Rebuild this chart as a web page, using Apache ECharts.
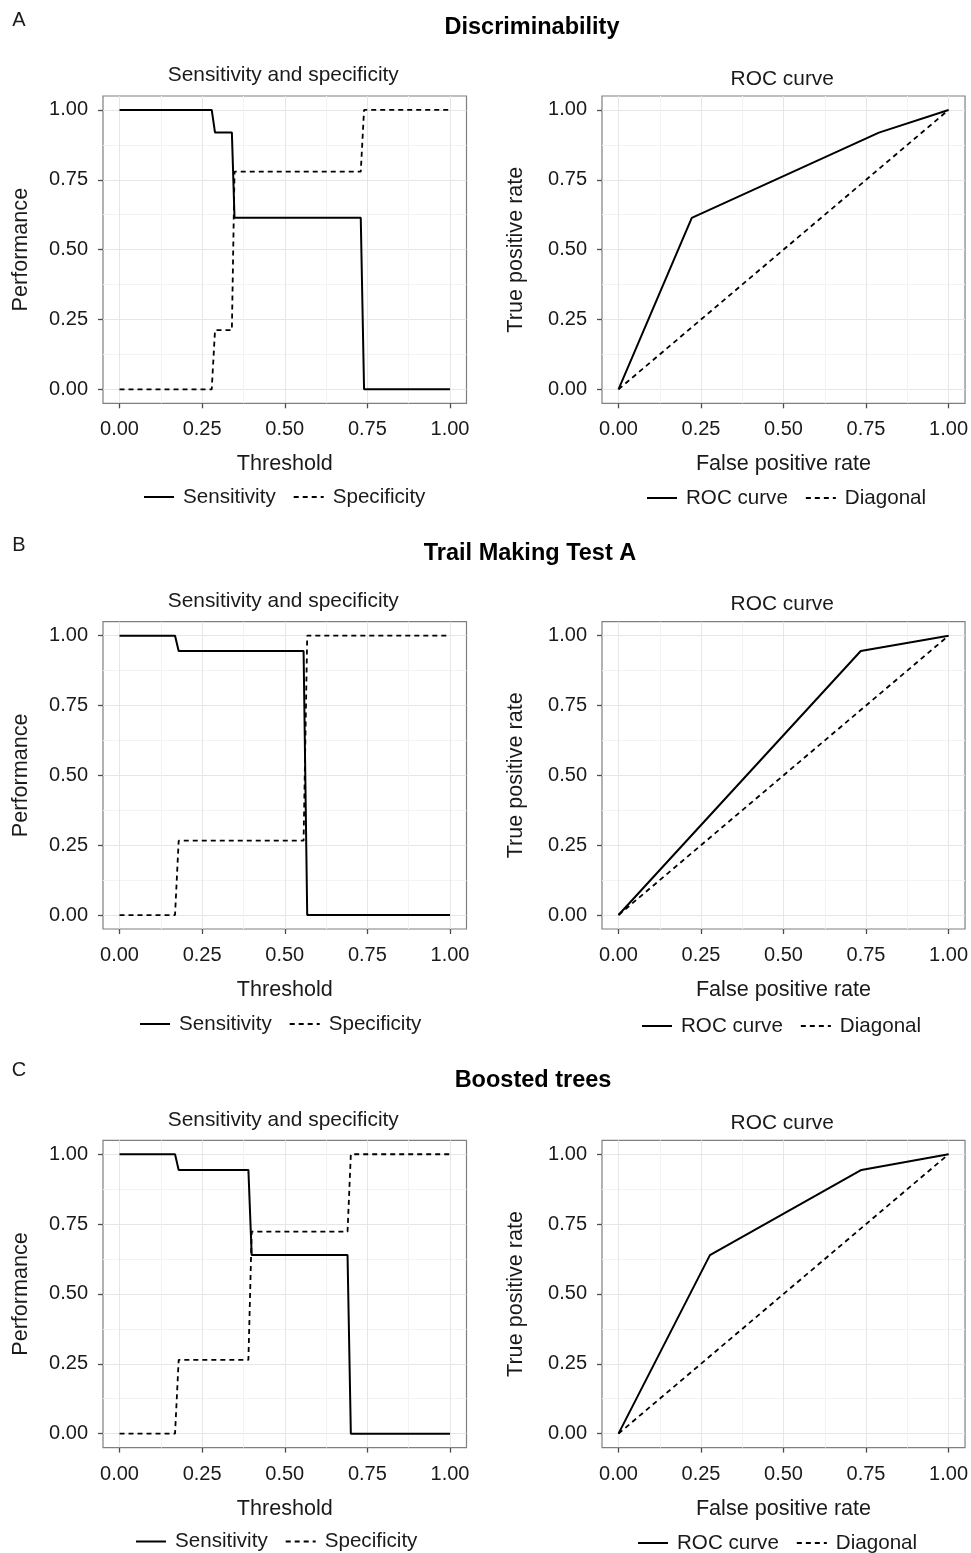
<!DOCTYPE html>
<html>
<head>
<meta charset="utf-8">
<title>Discriminability / Trail Making Test A / Boosted trees</title>
<script src="https://cdn.jsdelivr.net/npm/echarts@6/dist/echarts.min.js"></script>
<style>
  html, body { margin: 0; padding: 0; background: #fff; }
  #chart { width: 971px; height: 1553px; }
</style>
</head>
<body>
<div id="chart"></div>
<script>
// axis ticks (ggplot style: major + minor grid)
const majorTicks = [0, 0.25, 0.5, 0.75, 1];
const minorTicks = [0.125, 0.375, 0.625, 0.875];

// A - Discriminability
const thresholdA = [0, 0.279, 0.289, 0.340, 0.348, 0.730, 0.740, 1];
const sensA = [1, 1, 0.919, 0.919, 0.614, 0.614, 0, 0];
const specA = [0, 0, 0.212, 0.212, 0.779, 0.779, 1, 1];
const fprA = [0, 0.222, 0.789, 1];
const tprA = [0, 0.614, 0.919, 1];

// B - Trail Making Test A
const thresholdB = [0, 0.168, 0.179, 0.557, 0.568, 1];
const sensB = [1, 1, 0.945, 0.945, 0, 0];
const specB = [0, 0, 0.266, 0.266, 1, 1];
const fprB = [0, 0.734, 1];
const tprB = [0, 0.945, 1];

// C - Boosted trees
const thresholdC = [0, 0.168, 0.179, 0.390, 0.400, 0.690, 0.700, 1];
const sensC = [1, 1, 0.944, 0.944, 0.639, 0.639, 0, 0];
const specC = [0, 0, 0.264, 0.264, 0.723, 0.723, 1, 1];
const fprC = [0, 0.277, 0.736, 1];
const tprC = [0, 0.639, 0.944, 1];

const diagonal = [0, 1];

const FONT = '"Liberation Sans", Arial, sans-serif';
const TEXT = '#1a1a1a';

const rows = [
  { letter: 'A', title: 'Discriminability', thr: thresholdA, sens: sensA, spec: specA, fpr: fprA, tpr: tprA,
    top: 96, letterY: 20, titleX: 532, titleY: 28, legendX: [143, 646], legendY: [497, 498] },
  { letter: 'B', title: 'Trail Making Test A', thr: thresholdB, sens: sensB, spec: specB, fpr: fprB, tpr: tprB,
    top: 621.7, letterY: 545, titleX: 530, titleY: 554, legendX: [139, 641], legendY: [1024, 1026] },
  { letter: 'C', title: 'Boosted trees', thr: thresholdC, sens: sensC, spec: specC, fpr: fprC, tpr: tprC,
    top: 1140.3, letterY: 1070, titleX: 533, titleY: 1080.5, legendX: [135, 637], legendY: [1541.5, 1543] }
];

const panelW = 363.5, panelH = 307.3;
const panelLeft = [103, 602];

const grid = [], xAxis = [], yAxis = [], series = [], legend = [], graphic = [];

function pairs(xs, ys) {
  return xs.map((x, i) => [x, ys[i]]);
}

function majorAxis(g, name, gap, isX) {
  return {
    type: 'value', gridIndex: g, min: -0.05, max: 1.05,
    position: isX ? 'bottom' : 'left',
    name: name, nameLocation: 'middle', nameGap: gap,
    nameTextStyle: { fontSize: 21.6, color: TEXT, fontFamily: FONT },
    axisLine: { show: false, onZero: false },
    axisTick: { show: true, length: 5, customValues: majorTicks, lineStyle: { color: '#4d4d4d', width: 1.3 } },
    axisLabel: { customValues: majorTicks, formatter: v => v.toFixed(2), margin: isX ? 16.5 : 15,
      fontSize: 20, color: TEXT, fontFamily: FONT },
    splitLine: { show: true, lineStyle: { color: '#e6e6e6', width: 1 } }
  };
}

function minorAxis(g, isX) {
  return {
    type: 'value', gridIndex: g, min: -0.05, max: 1.05,
    position: isX ? 'top' : 'right',
    axisLine: { show: false, onZero: false },
    axisTick: { show: false, customValues: minorTicks },
    axisLabel: { show: false },
    splitLine: { show: true, lineStyle: { color: '#f3f3f3', width: 1 } }
  };
}

rows.forEach((row, r) => {
  // panel letter + row title
  graphic.push({ type: 'text', x: 19, y: row.letterY, silent: true,
    style: { text: row.letter, fontSize: 20, fontFamily: FONT, fill: TEXT, align: 'center', verticalAlign: 'middle' } });
  graphic.push({ type: 'text', x: row.titleX, y: row.titleY, silent: true,
    style: { text: row.title, fontSize: 23.5, fontWeight: 'bold', fontFamily: FONT, fill: '#000', align: 'center', verticalAlign: 'middle' } });

  [0, 1].forEach(c => {
    const g = r * 2 + c;
    grid.push({ left: panelLeft[c], top: row.top, width: panelW, height: panelH,
      show: true, borderColor: '#7f7f7f', borderWidth: 1.2, backgroundColor: 'transparent' });

    const sub = c === 0 ? 'Sensitivity and specificity' : 'ROC curve';
    graphic.push({ type: 'text', x: panelLeft[c] + panelW / 2 - 1.5, y: row.top - (c === 0 ? 20.5 : 17), silent: true,
      style: { text: sub, fontSize: 20.9, fontFamily: FONT, fill: TEXT, align: 'center', verticalAlign: 'middle' } });

    xAxis[g] = majorAxis(g, c === 0 ? 'Threshold' : 'False positive rate', 50, true);
    yAxis[g] = majorAxis(g, c === 0 ? 'Performance' : 'True positive rate', c === 0 ? 71 : 75, false);
    xAxis[6 + g] = minorAxis(g, true);
    yAxis[6 + g] = minorAxis(g, false);

    const names = c === 0 ? ['Sensitivity', 'Specificity'] : ['ROC curve', 'Diagonal'];
    const solid = c === 0 ? pairs(row.thr, row.sens) : pairs(row.fpr, row.tpr);
    const dashed = c === 0 ? pairs(row.thr, row.spec) : pairs(diagonal, diagonal);

    series.push({ type: 'line', name: names[0], xAxisIndex: g, yAxisIndex: g, data: solid,
      symbol: 'none', silent: true, lineStyle: { color: '#000', width: 2 }, z: 3 });
    series.push({ type: 'line', name: names[1], xAxisIndex: g, yAxisIndex: g, data: dashed,
      symbol: 'none', silent: true, lineStyle: { color: '#000', width: 1.8, type: [5, 4] }, z: 2 });

    legend.push({
      data: names, left: row.legendX[c], top: row.legendY[c] - 10.5,
      orient: 'horizontal', padding: 0, itemWidth: 30, itemHeight: 14, itemGap: 17,
      selectedMode: false, itemStyle: { opacity: 0 },
      textStyle: { fontSize: 20.6, color: TEXT, fontFamily: FONT, padding: [0, 0, 0, 4] }
    });
  });
});

const chart = echarts.init(document.getElementById('chart'), null, { renderer: 'canvas' });
chart.setOption({
  animation: false,
  backgroundColor: '#fff',
  textStyle: { fontFamily: FONT },
  grid, xAxis, yAxis, series, legend, graphic
});
</script>
</body>
</html>
